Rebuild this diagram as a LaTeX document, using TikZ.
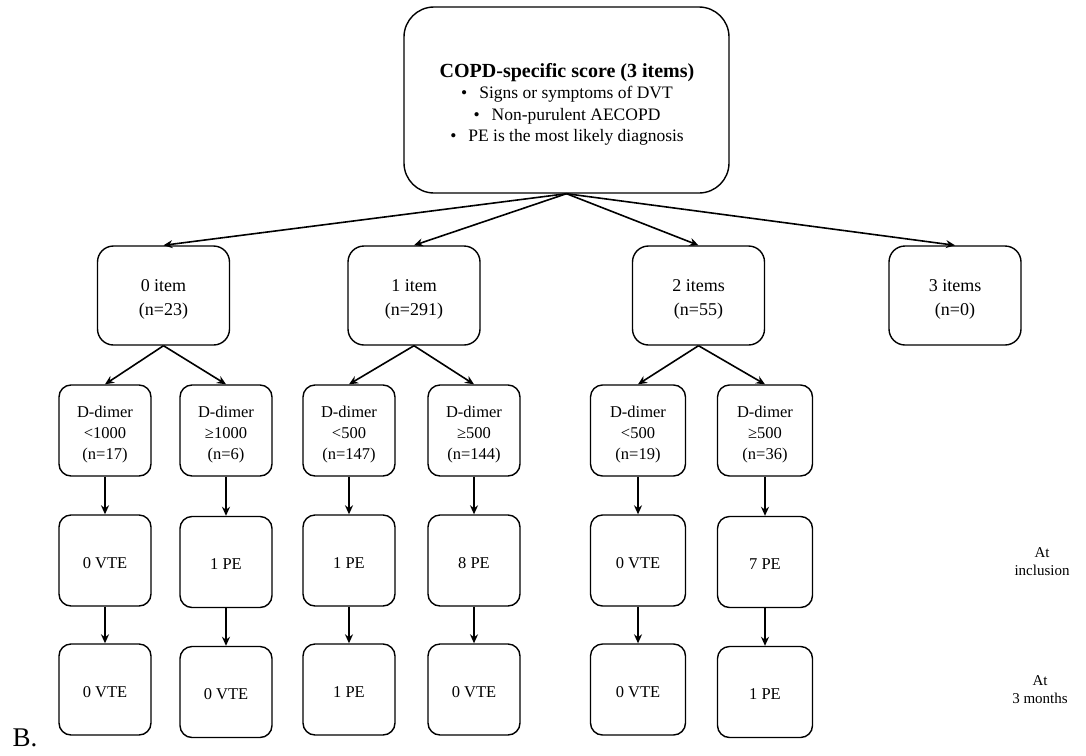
\documentclass[tikz,border=0pt]{standalone}
\usepackage{fontspec}
\setmainfont{Liberation Serif}
\usetikzlibrary{arrows.meta}
\begin{document}
\begin{tikzpicture}[x=1pt,y=-1pt,
  box/.style={draw,line width=1.4pt,rounded corners=14pt,inner sep=0pt},
  lvl/.style={box,rounded corners=16pt,minimum width=132pt,minimum height=99pt},
  dbox/.style={box,minimum width=92pt,minimum height=91pt,rounded corners=12pt},
  lt/.style={align=center,inner sep=0pt,font=\fontsize{18}{24}\selectfont,yshift=-4pt},
  dt/.style={align=center,inner sep=0pt,font=\fontsize{16.5}{21}\selectfont,yshift=-4.5pt},
  vt/.style={inner sep=0pt,font=\fontsize{16.5}{21}\selectfont,yshift=-2.5pt},
  arr/.style={-{Stealth[length=9pt,width=8pt]},line width=1.6pt},
  side/.style={align=center,font=\fontsize{15}{18}\selectfont}]
\useasboundingbox (0,0) rectangle (1086,755);
% top
\node[box,rounded corners=30pt,minimum width=325pt,minimum height=186pt] (top) at (566.5,100) {};
\node[align=center,inner sep=0pt,font=\fontsize{17.5}{21.5}\selectfont] (toptext) at (567,104.5)
  {{\fontsize{20}{22}\selectfont\bfseries COPD-specific score (3 items)}\\
   \textbullet\hspace{12pt}Signs or symptoms of DVT\\
   \textbullet\hspace{12pt}Non-purulent AECOPD\\
   \textbullet\hspace{12pt}PE is the most likely diagnosis};
% level 2
\node[lvl,label={[lt]center:{0 item\\(n=23)}}] (l0) at (163.5,295.5) {};
\node[lvl,label={[lt]center:{1 item\\(n=291)}}] (l1) at (414,295.5) {};
\node[lvl,label={[lt]center:{2 items\\(n=55)}}] (l2) at (698.5,295.5) {};
\node[lvl,label={[lt]center:{3 items\\(n=0)}}] (l3) at (955,295.5) {};
% level 3
\node[dbox,label={[dt]center:{D-dimer\\<1000\\(n=17)}}] (d1) at (105,430.5) {};
\node[dbox,label={[dt]center:{D-dimer\\≥1000\\(n=6)}}] (d2) at (226,430.5) {};
\node[dbox,label={[dt]center:{D-dimer\\<500\\(n=147)}}] (d3) at (349,430.5) {};
\node[dbox,label={[dt]center:{D-dimer\\≥500\\(n=144)}}] (d4) at (474,430.5) {};
\node[dbox,minimum width=95pt,label={[dt]center:{D-dimer\\<500\\(n=19)}}] (d5) at (638,430.5) {};
\node[dbox,minimum width=95pt,label={[dt]center:{D-dimer\\≥500\\(n=36)}}] (d6) at (765,430.5) {};
% level 4
\node[dbox,label={[vt]center:0 VTE}] (a1) at (105,560.5) {};
\node[dbox,label={[vt]center:1 PE}] (a2) at (226,562) {};
\node[dbox,label={[vt]center:1 PE}] (a3) at (349,560.5) {};
\node[dbox,label={[vt]center:8 PE}] (a4) at (474,560.5) {};
\node[dbox,minimum width=95pt,label={[vt]center:0 VTE}] (a5) at (638,560.5) {};
\node[dbox,minimum width=95pt,label={[vt]center:7 PE}] (a6) at (765,562) {};
% level 5
\node[dbox,label={[vt]center:0 VTE}] (b1) at (105,689.5) {};
\node[dbox,label={[vt]center:0 VTE}] (b2) at (226,692) {};
\node[dbox,label={[vt]center:1 PE}] (b3) at (349,689.5) {};
\node[dbox,label={[vt]center:0 VTE}] (b4) at (474,689.5) {};
\node[dbox,minimum width=95pt,label={[vt]center:0 VTE}] (b5) at (638,689.5) {};
\node[dbox,minimum width=95pt,label={[vt]center:1 PE}] (b6) at (765,692) {};
% side labels
\node[side] (inc) at (1042,561.5) {At\\inclusion};
\node[side] (mon) at (1040,689.5) {At\\3 months};
\node[font=\fontsize{27}{27}\selectfont] (lbl) at (25,738) {B.};
% connectors
\foreach \t in {l0,l1,l2,l3} \draw[arr] (top.south) -- (\t.north);
\draw[arr] (l0.south) -- (d1.north);
\draw[arr] (l0.south) -- (d2.north);
\draw[arr] (l1.south) -- (d3.north);
\draw[arr] (l1.south) -- (d4.north);
\draw[arr] (l2.south) -- (d5.north);
\draw[arr] (l2.south) -- (d6.north);
\foreach \i in {1,...,6} {
  \draw[arr] (d\i.south) -- (a\i.north);
  \draw[arr] (a\i.south) -- (b\i.north);
}
\end{tikzpicture}
\end{document}
